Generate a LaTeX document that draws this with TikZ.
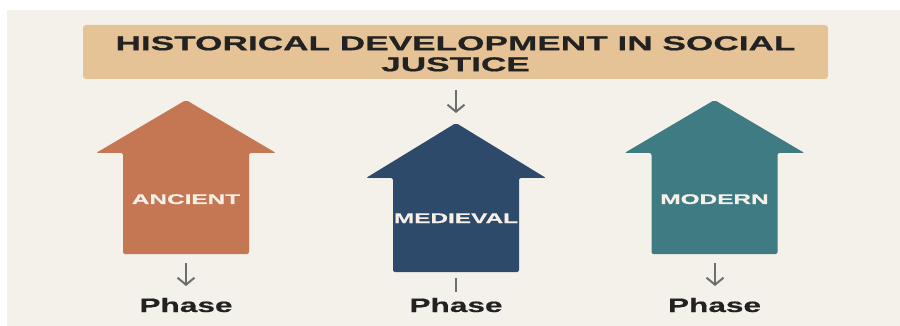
\documentclass[tikz,border=0pt]{standalone}
\usepackage{fontspec}
\usetikzlibrary{arrows.meta}
\newfontfamily\widecaps[FakeStretch=1.76,FakeBold=0.8]{Liberation Sans}
\newfontfamily\widelabel[FakeStretch=1.74,FakeBold=0.6]{Liberation Sans}
\newfontfamily\widephase[FakeStretch=1.62,FakeBold=0.6]{Liberation Sans}
\definecolor{bgcol}{HTML}{F4F1EA}
\definecolor{titlecol}{HTML}{E6C396}
\definecolor{ancientcol}{HTML}{C47752}
\definecolor{medievalcol}{HTML}{2D4A6A}
\definecolor{moderncol}{HTML}{3F7B83}
\definecolor{arrowgray}{HTML}{6E6E6E}
\definecolor{darktext}{HTML}{222222}
\definecolor{labeltext}{HTML}{F6F0E8}
\tikzset{
  titlebox/.style={fill=titlecol, rounded corners=3pt, minimum width=745pt, minimum height=54pt,
    inner sep=0pt, align=center, text=darktext,
    font=\widecaps\bfseries\fontsize{20}{21}\selectfont},
  eralabel/.style={text=labeltext, inner sep=0pt, anchor=base,
    font=\widelabel\bfseries\fontsize{14}{14}\selectfont},
  phaselabel/.style={text=darktext, inner sep=0pt, anchor=base,
    font=\widephase\bfseries\fontsize{19.5}{20}\selectfont},
  smallarrow/.style={draw=arrowgray, line width=2pt,
    -{Straight Barb[length=7pt,width=17pt,line width=2pt]}},
  smallline/.style={draw=arrowgray, line width=2.5pt},
  housearrow/.style={rounded corners=2pt}
}
% #1 centre x, #2 apex y, #3 wing y, #4 bottom y, #5 colour
\newcommand\UpHouseArrow[5]{%
  \fill[#5, housearrow] (#1,#2) -- (#1+90,#3) -- (#1+63,#3) -- (#1+63,#4) -- (#1-63,#4)
    -- (#1-63,#3) -- (#1-90,#3) -- cycle;}
\begin{document}
\begin{tikzpicture}[x=1pt,y=-1pt]
  \useasboundingbox (0,0) rectangle (900,326);
  \fill[white] (0,0) rectangle (900,326);
  \fill[bgcol] (7,10) rectangle (900,326);

  % title
  \node[titlebox] (title) at (455.5,52) {\rule{0pt}{17.6pt}HISTORICAL DEVELOPMENT IN SOCIAL\\JUSTICE};

  % arrows
  \UpHouseArrow{186}{100}{153}{254}{ancientcol}
  \UpHouseArrow{456}{123}{178}{272}{medievalcol}
  \UpHouseArrow{714.5}{100}{153}{254}{moderncol}

  \node[eralabel] (ancient) at (186,204) {ANCIENT};
  \node[eralabel] (medieval) at (456,223) {MEDIEVAL};
  \node[eralabel] (modern) at (714.5,204) {MODERN};

  \node[phaselabel] (phase1) at (186,312) {Phase};
  \node[phaselabel] (phase2) at (456,312) {Phase};
  \node[phaselabel] (phase3) at (714.5,312) {Phase};

  % connectors
  \coordinate (midtop) at (456,90);
  \coordinate (midhead) at (456,113);
  \coordinate (anctail) at (186,263);
  \coordinate (anchead) at (186,286);
  \coordinate (medtail) at (456,278);
  \coordinate (medend) at (456,292);
  \coordinate (modtail) at (715,263);
  \coordinate (modhead) at (715,286);

  \draw[smallarrow] (midtop) -- (midhead);
  \draw[smallarrow] (anctail) -- (anchead);
  \draw[smallline] (medtail) -- (medend);
  \draw[smallarrow] (modtail) -- (modhead);
\end{tikzpicture}
\end{document}
